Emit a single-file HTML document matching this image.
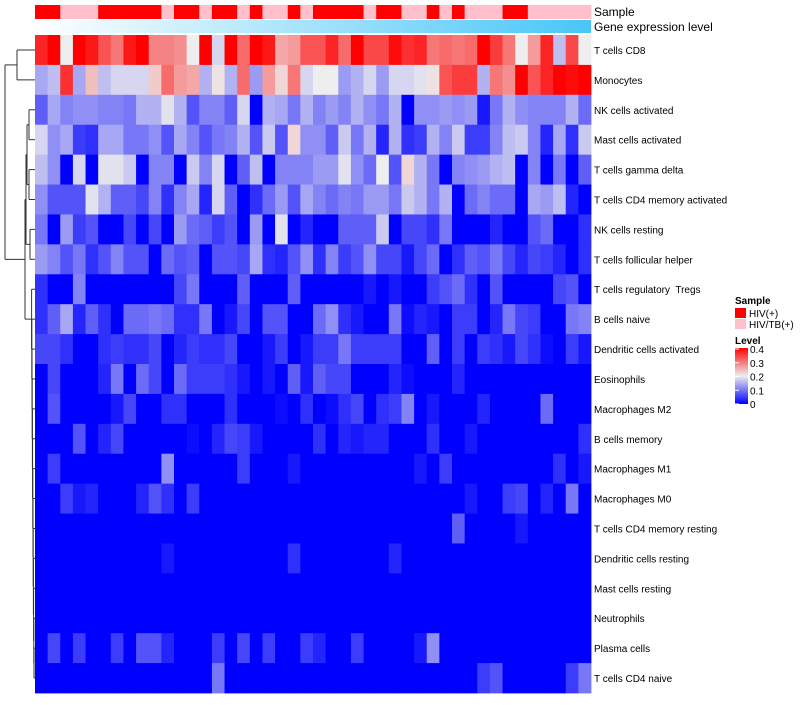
<!DOCTYPE html>
<html><head><meta charset="utf-8"><style>
body{margin:0;background:#fff;}
svg text{font-family:"Liberation Sans",sans-serif;white-space:pre;}
</style></head><body>
<svg id="chart" width="800" height="700" xmlns="http://www.w3.org/2000/svg">
<defs>
<linearGradient id="geneGrad" x1="0" x2="1" y1="0" y2="0"><stop offset="0" stop-color="#ffffff"/><stop offset="1" stop-color="#48c6f7"/></linearGradient>
<linearGradient id="lvlGrad" x1="0" x2="0" y1="1" y2="0"><stop offset="0" stop-color="#0000ff"/><stop offset="0.5" stop-color="#eeeeee"/><stop offset="1" stop-color="#ff0000"/></linearGradient>
</defs>
<g id="dendro" stroke="#333" fill="none" stroke-width="1"></g>
<g id="annot"></g>
<rect x="35" y="20" width="556" height="13" fill="url(#geneGrad)"/>
<text x="594" y="16" font-size="12">Sample</text>
<text x="594" y="31" font-size="12">Gene expression level</text>
<g id="cells"></g>
<g id="rowlabels"></g>
<g>
<text x="735" y="304" font-size="10" font-weight="bold">Sample</text>
<rect x="735" y="308" width="11" height="10" fill="#ff0000"/>
<text x="749" y="317" font-size="10">HIV(+)</text>
<rect x="735" y="319" width="11" height="10" fill="#ffc0cb"/>
<text x="749" y="328" font-size="10">HIV/TB(+)</text>
<text x="735" y="344" font-size="10" font-weight="bold">Level</text>
<rect x="735" y="348" width="13" height="56" fill="url(#lvlGrad)"/>
<g id="lvlticks"></g>
</g>
</svg>
<script>
const rowNames=["T cells CD8","Monocytes","NK cells activated","Mast cells activated","T cells gamma delta","T cells CD4 memory activated","NK cells resting","T cells follicular helper","T cells regulatory  Tregs","B cells naive","Dendritic cells activated","Eosinophils","Macrophages M2","B cells memory","Macrophages M1","Macrophages M0","T cells CD4 memory resting","Dendritic cells resting","Mast cells resting","Neutrophils","Plasma cells","T cells CD4 naive"];
const sampleGroups="RRPPPRRRRRPRRPRRPRPPRPRRRRPRRPPRPRPPPRRPPPPP".split("");
const levelTicks=[0,0.1,0.2,0.3,0.4];
const r0=[.37,.4,.2,.4,.38,.33,.3,.38,.4,.29,.29,.28,.2,.4,.18,.4,.31,.4,.38,.26,.27,.33,.33,.37,.31,.4,.34,.34,.39,.36,.37,.3,.31,.3,.31,.4,.35,.3,.2,.27,.37,.16,.34,.2];
const r1=[.14,.16,.36,.14,.24,.16,.18,.18,.18,.23,.31,.27,.26,.15,.21,.15,.31,.13,.27,.22,.3,.18,.2,.2,.13,.15,.18,.13,.18,.18,.19,.21,.33,.35,.35,.15,.3,.28,.4,.33,.37,.4,.39,.4];
const r2=[.08,.14,.11,.12,.12,.11,.11,.1,.15,.15,.19,.15,.07,.11,.11,.08,.18,0,.15,.14,.1,.15,.11,.13,.11,.15,.12,.1,.15,0,.12,.12,.13,.12,.13,.02,.1,.15,.12,.11,.11,.11,.15,.09];
const r3=[.18,.12,.14,.05,.04,.14,.14,.1,.1,.12,.07,.14,.11,.07,.1,.11,.15,.07,.17,.07,.22,.12,.12,.08,.17,.1,.15,.03,.15,.04,.05,.15,.11,.17,.05,.05,.11,.16,.17,.11,.03,.14,.04,.17];
const r4=[.16,.12,0,.18,0,.19,.19,.17,0,.11,.11,0,.17,.11,.18,0,.08,.16,0,.11,.11,.11,.13,.13,.19,.12,.09,.2,.07,.22,.15,.1,0,.11,.12,.13,.15,.16,0,.11,0,.1,0,.08];
const r5=[.12,.07,.07,.07,.19,.15,.08,.08,.06,.11,.04,.11,.14,.03,.18,.08,0,.04,.09,.13,.07,.14,.11,.09,.11,.1,.13,.13,.1,.17,.15,.1,.15,0,.09,.11,.09,.09,0,.14,.13,.16,.03,0];
const r6=[.1,0,.13,.05,.07,0,0,.06,0,.06,0,.13,.09,.08,.05,.07,0,.13,0,.19,0,.03,0,0,.08,.08,.08,.17,0,.06,.06,.04,.1,0,0,0,.03,0,0,.07,.09,0,0,.04];
const r7=[.13,.11,.07,.1,.04,.07,.11,.07,.07,0,.09,.07,.08,0,.07,.07,.06,.14,.04,.03,.07,.12,.04,.11,.05,.07,.12,.06,.06,.02,.06,.09,0,.04,.08,.07,.1,.06,.03,.06,.05,.03,0,.04];
const r8=[.04,0,0,.11,0,0,0,0,0,0,0,.06,.1,0,0,0,.08,0,0,0,.08,0,0,0,0,0,.02,0,.02,0,0,.05,.07,.09,.04,0,.07,0,0,0,0,.06,.07,0];
const r9=[.04,.08,.14,.03,.08,.04,0,.09,.09,.1,.09,.04,.04,.1,0,.02,.06,0,.07,.07,0,0,.09,.12,.04,.02,0,0,.1,.01,.03,.02,0,.05,.05,0,.03,.1,.06,.05,0,0,.1,.11];
const r10=[.06,.06,.04,0,0,.04,.05,.04,.04,.06,0,.03,.05,.04,.04,.06,0,0,.02,.05,0,.02,.05,.05,.1,.05,.05,.05,.05,0,0,.08,0,.05,0,.05,.04,.02,.06,.04,.01,0,.05,.02];
const r11=[0,.06,0,0,0,.03,.1,0,.09,.06,0,.09,.05,.05,.05,.04,.02,0,.02,0,.08,.02,.08,.06,.06,0,0,0,.03,.01,0,0,0,.03,0,0,0,0,0,0,0,0,0,0];
const r12=[0,.07,0,0,0,0,.02,.06,0,0,.04,.04,0,0,0,.04,0,0,0,.01,0,.04,0,.01,.04,.06,0,.04,.05,.11,0,.02,0,0,0,.03,0,0,0,0,.09,0,0,0];
const r13=[0,0,0,.07,0,.03,.06,0,0,0,0,0,.01,0,.03,.06,.05,.02,0,0,0,0,.04,0,.03,.02,.03,.03,0,0,0,.04,0,0,.02,0,0,0,0,0,0,0,0,.04];
const r14=[0,.05,0,0,0,0,0,0,0,0,.12,0,0,0,0,0,.05,0,0,0,.02,0,0,0,0,0,0,0,0,0,.02,0,.05,0,0,0,0,0,0,0,0,.04,0,.02];
const r15=[0,0,.05,.02,.03,0,0,0,.03,.07,.04,0,.05,0,0,0,0,0,0,0,0,0,0,0,0,0,0,0,0,0,0,0,0,0,.02,0,0,.05,.06,0,.03,0,.1,0];
const r16=[0,0,0,0,0,0,0,0,0,0,0,0,0,0,0,0,0,0,0,0,0,0,0,0,0,0,0,0,0,0,0,0,0,.08,0,0,0,0,.02,0,0,0,0,0];
const r17=[0,0,0,0,0,0,0,0,0,0,.02,0,0,0,0,0,0,0,0,0,.04,0,0,0,0,0,0,0,.03,0,0,0,0,0,0,0,0,0,0,0,0,0,0,0];
const r18=[0,0,0,0,0,0,0,0,0,0,0,0,0,0,0,0,0,0,0,0,0,0,0,0,0,0,0,0,0,0,0,0,0,0,0,0,0,0,0,0,0,0,0,0];
const r19=[0,0,0,0,0,0,0,0,0,0,0,0,0,0,0,0,0,0,0,0,0,0,0,0,0,0,0,0,0,0,0,0,0,0,0,0,0,0,0,0,0,0,0,0];
const r20=[0,.06,0,.05,0,0,.05,0,.07,.07,.03,0,0,0,.05,0,.06,0,.05,0,0,.05,.03,0,0,.05,0,0,0,0,.02,.12,0,0,0,0,0,0,0,0,0,0,0,0];
const r21=[0,0,0,0,0,0,0,0,0,0,0,0,0,0,.1,0,0,0,0,0,0,0,0,0,0,0,0,0,0,0,0,0,0,0,0,.05,.07,0,0,0,0,0,.05,.1];
const values=[r0,r1,r2,r3,r4,r5,r6,r7,r8,r9,r10,r11,r12,r13,r14,r15,r16,r17,r18,r19,r20,r21];

const NS="http://www.w3.org/2000/svg";
const X0=35,X1=591,Y0=35,Y1=693;
const nCol=r0.length,nRow=rowNames.length;
const cw=(X1-X0)/nCol,rh=(Y1-Y0)/nRow;
const xPos=i=>X0+i*cw, yPos=j=>Y0+j*rh;
function color(v){
  const t=Math.max(0,Math.min(0.4,v));
  let r,g,b;
  if(t<=0.2){const f=t/0.2;r=238*f;g=238*f;b=255-17*f;}
  else{const f=(t-0.2)/0.2;r=238+17*f;g=238*(1-f);b=238*(1-f);}
  return `rgb(${Math.round(r)},${Math.round(g)},${Math.round(b)})`;
}
const cells=document.getElementById('cells');
values.forEach((row,j)=>row.forEach((v,i)=>{
  const rc=document.createElementNS(NS,'rect');
  
  
  rc.setAttribute('x',xPos(i));rc.setAttribute('y',yPos(j));
  rc.setAttribute('width',cw+0.4);rc.setAttribute('height',rh+0.4);
  rc.setAttribute('fill',color(v));cells.appendChild(rc);
}));
const annot=document.getElementById('annot');
sampleGroups.forEach((s,i)=>{
  const rc=document.createElementNS(NS,'rect');
  
  
  rc.setAttribute('x',xPos(i));rc.setAttribute('y',5);
  rc.setAttribute('width',cw+0.4);rc.setAttribute('height',14);
  rc.setAttribute('fill',s==='R'?'#ff0000':'#ffc0cb');annot.appendChild(rc);
});
const rl=document.getElementById('rowlabels');
rowNames.forEach((n,j)=>{
  const t=document.createElementNS(NS,'text');
  
  
  t.setAttribute('x',594);t.setAttribute('y',yPos(j)+rh/2+4);
  t.setAttribute('font-size','10');t.textContent=n;rl.appendChild(t);
});
const lt=document.getElementById('lvlticks');
levelTicks.forEach(v=>{
  const y=404-v/0.4*55;
  const t=document.createElementNS(NS,'text');
  
  
  t.setAttribute('x',750);t.setAttribute('y',y+4);t.setAttribute('font-size','10');
  t.textContent=v===0?'0':v.toFixed(1);lt.appendChild(t);
  const l=document.createElementNS(NS,'line');
  l.setAttribute('x1',735);l.setAttribute('x2',739);l.setAttribute('y1',y);l.setAttribute('y2',y);
  l.setAttribute('stroke','#fff');lt.appendChild(l);
});
const d=document.getElementById('dendro');
const cy=j=>yPos(j)+rh/2;
function seg(x1,y1,x2,y2){const l=document.createElementNS(NS,'line');l.setAttribute('x1',x1);l.setAttribute('y1',y1);l.setAttribute('x2',x2);l.setAttribute('y2',y2);d.appendChild(l);}
function join(xa,ya,xb,yb,xm){seg(xa,ya,xm,ya);seg(xb,yb,xm,yb);seg(xm,ya,xm,yb);return [xm,(ya+yb)/2];}
const a=join(35,cy(0),35,cy(1),17);
let p=join(35,cy(2),35,cy(3),29);
let q=join(35,cy(4),35,cy(5),29);
p=join(p[0],p[1],q[0],q[1],27);
q=join(35,cy(6),35,cy(7),30);
p=join(p[0],p[1],q[0],q[1],26);
let r=[35,cy(21)];
for(let j=20;j>=8;j--){r=join(35,cy(j),r[0],r[1],Math.max(31,34-(20-j)*0.2));}
p=join(p[0],p[1],r[0],r[1],25);
join(a[0],a[1],p[0],p[1],5);
</script>
</body></html>
